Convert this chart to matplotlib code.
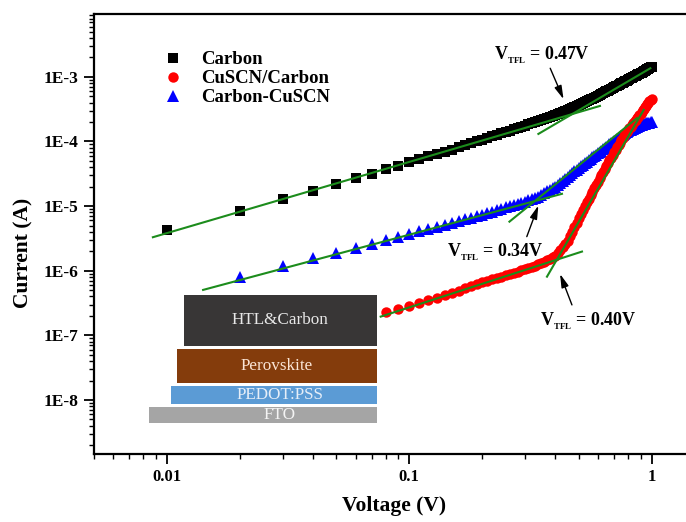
import matplotlib
matplotlib.use('Agg')
import matplotlib.pyplot as plt
from matplotlib.patches import Rectangle
from matplotlib.ticker import LogLocator, FuncFormatter, NullFormatter
import numpy as np

# voltage sweep, 0.01 V steps
voltage = np.round(np.arange(1, 101) * 0.01, 2)

# currents in uA
carbon_uA = [
    4.2, 8.5, 12.9, 17.4, 22.1, 27.0, 31.6, 37.0, 42.0, 48.0,
    53.3, 58.7, 64.1, 69.5, 75.0, 81.3, 87.3, 93.4, 100, 107,
    113.6, 120.2, 127.0, 133.8, 140.7, 147.7, 154.9, 162.1, 169.4, 176.8,
    184.3, 191.9, 199.6, 207.3, 215.2, 223.3, 231.6, 239.8, 248.8, 258.1,
    267.4, 276.9, 286.6, 296.4, 306.3, 316.4, 326.6, 336.9, 348.8, 361,
    374.8, 388.9, 403.1, 417.7, 432.5, 447.5, 462.7, 478.3, 494.0, 510,
    526.8, 543.9, 561.3, 578.9, 596.7, 614.9, 633.3, 652.0, 670.9, 690,
    709.7, 729.8, 750.1, 770.7, 791.6, 812.7, 834.1, 855.7, 877.7, 900,
    922.7, 945.7, 969.0, 992.6, 1016.5, 1040.6, 1065.0, 1089.7, 1114.7, 1140,
    1167.4, 1195.2, 1223.3, 1251.8, 1280.6, 1309.8, 1339.3, 1369.1, 1399.4, 1430,
]

# CuSCN/Carbon, from 0.08 V (lower points hidden behind the device sketch)
cuscn_uA = [
    0.230, 0.2575, 0.285,
    0.3173, 0.350, 0.383, 0.4164, 0.45, 0.492, 0.5351, 0.5791, 0.6241, 0.67,
    0.7058, 0.7417, 0.7778, 0.8138, 0.85, 0.8895, 0.9293, 0.9693, 1.0096, 1.05,
    1.099, 1.148, 1.198, 1.249, 1.30, 1.376, 1.454, 1.534, 1.616, 1.70,
    1.901, 2.121, 2.36, 2.619, 2.90, 3.432, 4.046, 4.755, 5.568, 6.5,
    7.507, 8.645, 9.93, 11.376, 13.0, 14.76, 16.72, 18.9, 21.32, 24.0,
    26.94, 30.18, 33.76, 37.69, 42.0, 46.38, 51.14, 56.32, 61.93, 68.0,
    74.35, 81.19, 88.56, 96.48, 105, 113, 121.4, 130.4, 139.9, 150,
    159.9, 170.4, 181.3, 192.9, 205, 216.9, 229.3, 242.3, 255.8, 270,
    286.4, 303.5, 321.5, 340.3, 360, 378.5, 397.7, 417.7, 438.4, 460,
]

# Carbon-CuSCN, from 0.02 V
cc_uA = [
    0.79, 1.19, 1.56, 1.91, 2.23, 2.57, 3.0, 3.3, 3.7,
    4.07, 4.44, 4.81, 5.18, 5.55, 5.92, 6.29, 6.66, 7.03, 7.4,
    7.82, 8.24, 8.67, 9.09, 9.52, 9.95, 10.39, 10.82, 11.26, 11.7,
    12.26, 12.83, 13.41, 14.0, 14.92, 15.87, 16.85, 17.87, 18.92, 20.0,
    21.53, 23.14, 24.83, 26.6, 28.46, 30.39, 32.41, 34.52, 36.71, 39.0,
    41.29, 43.68, 46.14, 48.7, 51.35, 54.08, 56.92, 59.85, 62.88, 66.0,
    69.15, 72.4, 75.75, 79.19, 82.74, 86.38, 90.11, 93.98, 97.94, 102,
    105.9, 109.9, 114.0, 118.1, 122.4, 126.8, 131.2, 135.8, 140.4, 145,
    148.3, 151.7, 155.1, 158.6, 162.1, 165.6, 169.1, 172.7, 176.3, 180,
    182, 184, 186, 188, 190, 192, 194, 196, 198, 200,
]

# linear fits (V, A) for the two regimes of each curve
fit_carbon_low = ([0.00875, 0.612], [3.3e-6, 3.55e-4])
fit_carbon_high = ([0.341, 0.988], [1.31e-4, 1.36e-3])
fit_cc_low = ([0.0141, 0.4266], [5.05e-7, 1.55e-5])
fit_cc_high = ([0.259, 0.870], [5.75e-6, 2.3e-4])
fit_cuscn_low = ([0.0762, 0.516], [1.95e-7, 1.98e-6])
fit_cuscn_high = ([0.370, 0.927], [8.1e-7, 3.08e-4])

i_carbon = np.array(carbon_uA) * 1e-6
i_cuscn = np.array(cuscn_uA) * 1e-6
i_cc = np.array(cc_uA) * 1e-6
v_carbon = voltage
v_cuscn = voltage[7:]
v_cc = voltage[1:]

plt.rcParams['font.family'] = ['Liberation Serif', 'DejaVu Serif']
plt.rcParams['font.weight'] = 'bold'
plt.rcParams['mathtext.fontset'] = 'custom'
plt.rcParams['mathtext.rm'] = 'Liberation Serif:bold'
plt.rcParams['mathtext.bf'] = 'Liberation Serif:bold'
plt.rcParams['mathtext.it'] = 'Liberation Serif:bold'

fig = plt.figure(figsize=(6.86, 5.22), dpi=100)
ax = fig.add_axes([0.137, 0.1303, 0.8751, 0.8429])

ax.plot(v_carbon, i_carbon, 's', color='k', ms=7, mew=0, label='Carbon', zorder=3)
ax.plot(v_cuscn, i_cuscn, 'o', color='#ff0000', ms=7.5, mew=0, label='CuSCN/Carbon', zorder=3.2)
ax.plot(v_cc, i_cc, '^', color='#0000ff', ms=8, mew=0, label='Carbon-CuSCN', zorder=3.1)

green = '#1c8c1c'
for fx, fy in [fit_carbon_low, fit_carbon_high, fit_cc_low, fit_cc_high,
               fit_cuscn_low, fit_cuscn_high]:
    ax.plot(fx, fy, '-', color=green, lw=1.5, zorder=4)

ax.set_xscale('log')
ax.set_yscale('log')
ax.set_xlim(0.005, 1.5)
ax.set_ylim(1.46e-9, 9.4e-3)

ax.xaxis.set_major_formatter(FuncFormatter(lambda v, p: '%g' % v))
ax.yaxis.set_major_locator(LogLocator(base=10, numticks=20))
ax.yaxis.set_minor_locator(LogLocator(base=10, subs=np.arange(2, 10), numticks=20))
ax.yaxis.set_major_formatter(FuncFormatter(lambda v, p: '1E%d' % round(np.log10(v))))
ax.yaxis.set_minor_formatter(NullFormatter())
ax.xaxis.set_minor_formatter(NullFormatter())

ax.tick_params(which='major', direction='out', length=7, width=1.3, pad=4)
ax.tick_params(axis='y', which='major', labelsize=12.5)
ax.tick_params(axis='x', which='major', labelsize=12)
ax.tick_params(which='minor', direction='out', length=3.5, width=1.0)
ax.tick_params(top=False, right=False, which='both')
for s in ax.spines.values():
    s.set_linewidth(1.6)

ax.set_xlabel('Voltage (V)', fontsize=15.5, fontweight='bold')
ax.xaxis.set_label_coords(0.5, -0.095)
ax.set_ylabel('Current (A)', fontsize=15.5, fontweight='bold')
ax.yaxis.set_label_coords(-0.10, 0.457)

ax.legend(loc='upper left', bbox_to_anchor=(0.1166, 0.916), frameon=False,
          borderpad=0, borderaxespad=0, handlelength=1.0, handletextpad=1.0,
          labelspacing=0.1, numpoints=1,
          prop=dict(family='Liberation Serif', weight='bold', size=13.5))

# V_TFL labels and arrows
tfl_notes = [
    ('V$_{_{\\mathrm{TFL}}}$ = 0.47V', (0.224, 1.88e-3), (0.3815, 1.36e-3), (0.433, 4.52e-4)),
    ('V$_{_{\\mathrm{TFL}}}$ = 0.34V', (0.1427, 1.69e-6), (0.3054, 3.37e-6), (0.3408, 1.02e-5)),
    ('V$_{_{\\mathrm{TFL}}}$ = 0.40V', (0.3467, 1.45e-7), (0.469, 2.96e-7), (0.419, 8.9e-7)),
]
for txt, pos, tail, head in tfl_notes:
    ax.text(pos[0], pos[1], txt, fontsize=13, fontweight='bold', ha='left', va='baseline', zorder=6)
    ax.annotate('', xy=head, xytext=tail,
                arrowprops=dict(arrowstyle='-|>,head_length=0.8,head_width=0.22',
                                color='k', lw=1.0, shrinkA=0, shrinkB=0), zorder=6)

# device stack sketch
layers = [
    ('HTL&Carbon', 0.1499, 0.2461, 0.3211, 0.1153, '#383636', '#e8e8e8', 0.310),
    ('Perovskite', 0.1378, 0.1620, 0.3332, 0.0766, '#843c0c', '#fbe5d6', 0.304),
    ('PEDOT:PSS', 0.1278, 0.1130, 0.3432, 0.0415, '#5b9bd5', '#e6eef8', 0.310),
    ('FTO', 0.0921, 0.0711, 0.3789, 0.0350, '#a5a5a5', '#f4f4f4', 0.310),
]
for name, x0, y0, w, h, fc, tc, tx in layers:
    ax.add_patch(Rectangle((x0, y0), w, h, transform=ax.transAxes, facecolor=fc,
                           edgecolor='none', zorder=5))
    ax.text(tx, y0 + h / 2, name, transform=ax.transAxes, ha='center', va='center',
            fontsize=12.3, fontweight='normal', color=tc, zorder=6)

fig.savefig('out.png', dpi=100)
